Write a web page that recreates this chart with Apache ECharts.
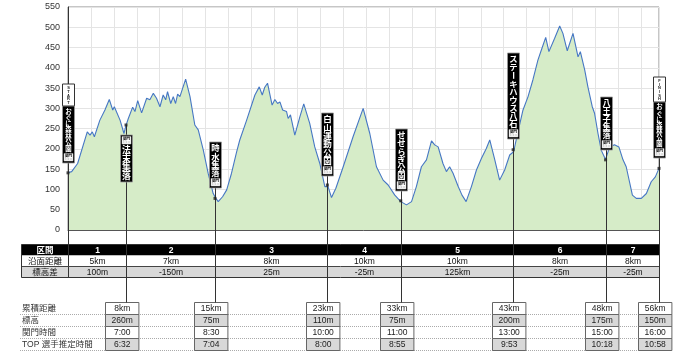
<!DOCTYPE html>
<html><head><meta charset="utf-8">
<script src="https://cdn.jsdelivr.net/npm/echarts@6/dist/echarts.min.js"></script>
<style>html,body{margin:0;padding:0;background:#fff}#c{width:700px;height:361px}</style>
</head><body><div id="c"></div>
<script>
// ---- data ----
const profileX = [0,0.16,0.42,0.84,0.96,1.06,1.15,1.39,1.61,1.80,1.95,2.02,2.27,2.44,2.53,2.63,2.82,2.92,3.04,3.21,3.43,3.57,3.72,3.86,4.01,4.15,4.26,4.34,4.48,4.59,4.69,4.78,4.88,5.13,5.32,5.53,5.68,5.90,6.11,6.33,6.45,6.55,6.74,6.92,7.13,7.35,7.49,7.79,8.15,8.34,8.47,8.58,8.70,8.90,9.02,9.14,9.24,9.36,9.53,9.60,9.70,9.89,10.11,10.28,10.54,10.76,10.98,11.20,11.34,11.49,11.68,12.00,12.43,12.87,13.16,13.45,13.74,13.96,14.25,14.51,14.76,14.98,15.19,15.41,15.63,15.85,15.99,16.14,16.35,16.50,16.64,16.79,17.01,17.18,17.36,17.59,17.81,18.03,18.24,18.39,18.61,18.82,19.04,19.26,19.43,19.62,19.84,20.06,20.27,20.49,20.64,20.83,20.97,21.22,21.44,21.58,21.77,22.02,22.24,22.34,22.53,22.67,22.86,22.96,23.11,23.25,23.44,23.62,23.83,24.02,24.20,24.34,24.61,24.78,25.00,25.22,25.43,25.61,25.77];
const profileElev = [141,144,164,242,234,242,230,271,296,322,296,304,271,238,258,275,303,292,319,289,325,321,337,325,304,333,321,341,312,329,312,335,329,372,329,259,247,197,140,90,78,70,82,99,140,192,222,271,333,353,333,352,362,308,322,312,316,296,292,275,284,234,279,311,263,205,164,107,107,80,103,156,230,300,238,156,123,111,86,70,62,70,107,156,173,220,210,205,164,144,156,140,108,86,70,107,148,177,201,222,173,123,148,185,193,242,296,329,370,419,444,475,440,473,503,485,442,485,427,440,395,353,304,288,238,197,174,205,210,205,173,156,86,78,78,90,119,131,152];
const xMax = 25.77;
const yTicksMax = 550, yTickStep = 50;

const markerX = [0, 2.53, 6.41, 11.31, 14.51, 19.41, 23.44, 25.77];
const markerElev = [141, 259, 78, 111, 72, 198, 173, 152];
const markerNames = ['おぐに森林公園','法末集落','時水集落','白山運動公園','せせらぎ公園','ステーキハウス八石','八王子集落','おぐに森林公園'];
const markerHeads = ['START','','','','','','','FINISH'];
const iconText = '関門';

const sectionRowLabels = ['区間','沿面距離','標高差'];
const sectionNums = ['1','2','3','4','5','6','7'];
const sectionDist = ['5km','7km','8km','10km','10km','8km','8km'];
const sectionElevDiff = ['100m','-150m','25m','-25m','125km','-25m','-25m'];

const cpRowLabels = ['累積距離','標高','関門時間','TOP 選手推定時間'];
const cpDist = ['8km','15km','23km','33km','43km','48km','56km'];
const cpElev = ['260m','75m','110m','75m','200m','175m','150m'];
const cpCutoff = ['7:00','8:30','10:00','11:00','13:00','15:00','16:00'];
const cpTop = ['6:32','7:04','8:00','8:55','9:53','10:18','10:58'];

// ---- chart ----
const FF = "'Liberation Sans','Noto Sans CJK JP',sans-serif";
const JF = "'Noto Sans CJK JP',sans-serif";
const chart = echarts.init(document.getElementById('c'), null, {renderer:'canvas'});
chart.setOption({
  animation:false,
  grid:{left:68, top:7, width:591, height:223, show:true, borderColor:'#8c8c8c', borderWidth:1},
  xAxis:{type:'value', min:0, max:xMax, interval:1,
    axisLabel:{show:false}, axisTick:{show:false},
    axisLine:{lineStyle:{color:'#555', width:1}},
    splitLine:{lineStyle:{color:'#e4e4e4'}}},
  yAxis:{type:'value', min:0, max:yTicksMax, interval:yTickStep,
    axisLabel:{fontSize:9, color:'#333', margin:8, fontFamily:FF},
    axisTick:{show:false},
    axisLine:{show:true, lineStyle:{color:'#333'}},
    splitLine:{lineStyle:{color:'#e4e4e4'}}},
  series:[
    {type:'line', data:profileX.map((x,i)=>[x,profileElev[i]]), symbol:'none',
     lineStyle:{color:'#4677c4', width:1.1}, areaStyle:{color:'#d6ecc8', opacity:1}, z:2},
    {type:'scatter', data:markerX.map((x,i)=>[x,markerElev[i]]), symbol:'rect', symbolSize:3,
     itemStyle:{color:'#222'}, clip:false, z:20}
  ]
});

// ---- graphic overlays (positions from axis scales) ----
const P = (x,y)=>chart.convertToPixel({gridIndex:0},[x,y]);
const mp = markerX.map((x,i)=>P(x,markerElev[i]));
const mx = mp.map(p=>Math.round(p[0])+0.5);
const g = [];
function R(x,y,w,h,fill,stroke,lw,z){g.push({type:'rect',shape:{x:x,y:y,width:w,height:h},style:{fill:fill||'transparent',stroke:stroke||null,lineWidth:lw||1},z:z||10,silent:true});}
function L(x1,y1,x2,y2,c,lw,dash,z){g.push({type:'line',shape:{x1:x1,y1:y1,x2:x2,y2:y2},style:{stroke:c,lineWidth:lw||1,lineDash:dash||null},z:z||10,silent:true});}
function T(x,y,s,font,fill,align,rot,z){g.push({type:'text',x:x,y:y,rotation:rot||0,style:{text:s,font:font,fill:fill,align:align||'center',verticalAlign:'middle',textAlign:align||'center',textVerticalAlign:'middle'},z:z||12,silent:true});}

// layout of marker label boxes (px)
const boxLayout = [
  {top:84, split:106, bottom:163, icon:'bottom'},
  {top:135, bottom:182, icon:'top'},
  {top:142, bottom:188, icon:'bottom'},
  {top:113, bottom:176, icon:'bottom'},
  {top:129, bottom:191, icon:'bottom'},
  {top:53, bottom:139, icon:'bottom'},
  {top:97, bottom:150, icon:'bottom'},
  {top:77, split:102, bottom:158, icon:'bottom'}
];
const tblTop=244.5, tblRowH=11, tblLeft=21.5;
const cpTop0=302.5, cpRowH=12;

// marker lines
markerX.forEach((x,i)=>{
  const b=boxLayout[i];
  const y1=Math.min(b.top, mp[i][1]);
  const y2 = i===0 ? tblTop+3*tblRowH : cpTop0;
  L(mx[i], y1, mx[i], y2, '#333', 1, null, 8);
});

// marker boxes
markerX.forEach((x,i)=>{
  const b=boxLayout[i], cx=mx[i], w=12, x0=cx-6;
  const blackTop = b.split || b.top;
  if (markerHeads[i]) {
    R(x0, b.top, w, blackTop-b.top, '#fff', '#333', 1, 15);
    const s=markerHeads[i], st=(blackTop-b.top-3)/s.length;
    for (let k=0;k<s.length;k++) T(cx, b.top+2+st*(k+0.5), s[k], 'bold 4px '+FF, '#222', 'center', 0, 16);
  }
  R(x0, blackTop, w, b.bottom-blackTop, '#000', '#999', 0.8, 15);
  let cTop, cBot, iy;
  if (b.icon==='top') { iy=blackTop+1.5; cTop=blackTop+10; cBot=b.bottom-2; }
  else { iy=b.bottom-9.5; cTop=blackTop+2; cBot=b.bottom-11; }
  R(cx-4.5, iy, 9, 7.5, '#fff', '#bbb', 0.5, 16);
  T(cx, iy+2.6, iconText, 'bold 3.6px '+JF, '#000', 'center', 0, 17);
  L(cx-3.5, iy+5.5, cx+3.5, iy+5.5, '#555', 0.6, [0.8,0.8], 17);
  const s=markerNames[i], n=s.length, st=(cBot-cTop)/n;
  const fs=Math.min(9, st*1.02);
  for (let k=0;k<n;k++){
    const ch=s[k];
    const rot = (ch==='ー') ? Math.PI/2 : 0;
    T(cx, cTop+st*(k+0.5), ch, 'bold '+fs.toFixed(1)+'px '+JF, '#fff', 'center', rot, 17);
  }
});

// section table
const bounds=[tblLeft].concat(mx);
const tblRight=mx[mx.length-1];
const tw=tblRight-tblLeft;
R(tblLeft, tblTop, tw, tblRowH, '#000', null, 1, 5);
R(tblLeft, tblTop+tblRowH, tw, tblRowH, '#fff', null, 1, 5);
R(tblLeft, tblTop+2*tblRowH, tw, tblRowH, '#d8d8d8', null, 1, 5);
L(tblLeft, tblTop+2*tblRowH, tblRight, tblTop+2*tblRowH, '#444', 1, null, 9);
R(tblLeft, tblTop, tw, 3*tblRowH, 'transparent', '#333', 1, 9);
const rows=[sectionNums, sectionDist, sectionElevDiff];
for (let r=0;r<3;r++){
  const cy=tblTop+tblRowH*(r+0.5)+0.5;
  const col = r===0 ? '#fff' : '#111';
  const font = (r===0 ? 'bold ' : '')+'8.5px '+FF;
  T((bounds[0]+bounds[1])/2, cy, sectionRowLabels[r], font, col, 'center', 0, 12);
  rows[r].forEach((v,c)=>{ T((bounds[c+1]+bounds[c+2])/2, cy, v, font, col, 'center', 0, 12); });
}

// checkpoint info table
for (let r=0;r<4;r++){
  const yl=cpTop0+cpRowH*(r+1);
  L(20, yl, 672, yl, '#aaa', 1, [1,1], 4);
  T(22, cpTop0+cpRowH*(r+0.5)+0.5, cpRowLabels[r], '8.5px '+FF, '#333', 'left', 0, 12);
}
const cpRows=[cpDist, cpElev, cpCutoff, cpTop];
for (let i=1;i<mx.length;i++){
  const cx=mx[i]-5, w=33.4, x0=Math.round(cx-w/2)+0.5;
  for (let r=0;r<4;r++){
    const y=cpTop0+cpRowH*r;
    R(x0, y, w, cpRowH, r%2===0 ? '#fff' : '#d8d8d8', '#666', 1, 6);
    T(x0+w/2, y+cpRowH/2+0.5, cpRows[r][i-1], '8.5px '+FF, '#222', 'center', 0, 12);
  }
}

chart.setOption({graphic:{elements:g}});
</script>
</body></html>
